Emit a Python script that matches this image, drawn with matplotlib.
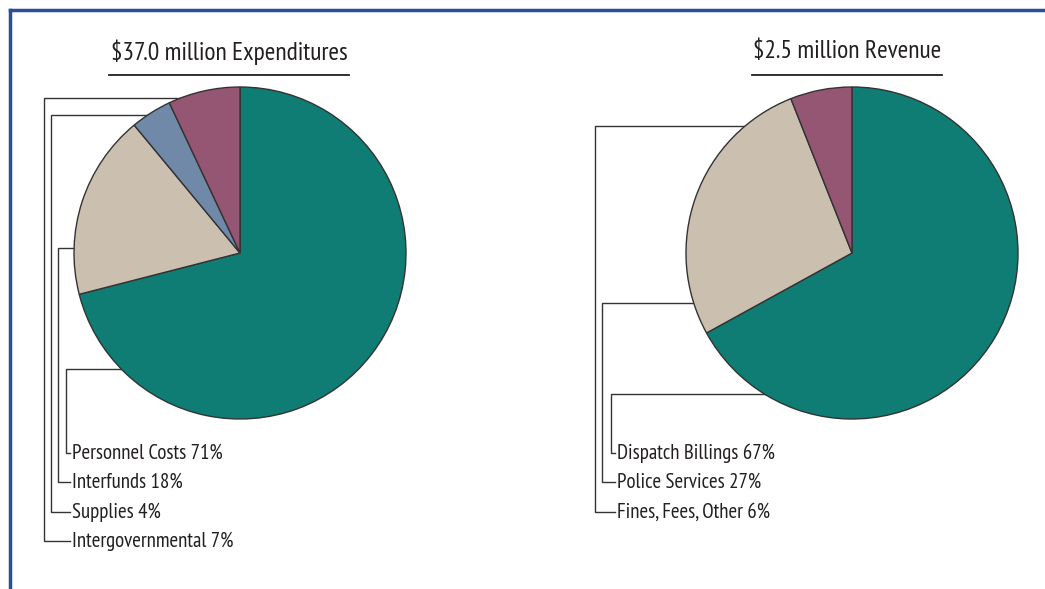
import matplotlib
matplotlib.use("Agg")
import matplotlib.pyplot as plt
from matplotlib import font_manager

# ---------- data ----------
exp_labels = ["Personnel Costs", "Interfunds", "Supplies", "Intergovernmental"]
exp_values = [71, 18, 4, 7]
exp_title = "$37.0 million Expenditures"

rev_labels = ["Dispatch Billings", "Police Services", "Fines, Fees, Other"]
rev_values = [67, 27, 6]
rev_title = "$2.5 million Revenue"

exp_colors = ["#0f7d74", "#cbc0af", "#7089a8", "#955673"]
rev_colors = ["#0f7d74", "#cbc0af", "#955673"]

# ---------- style ----------
W, H = 1045, 589
INK = "#231f20"
LINE = "#333333"
BORDER = "#2d4b9b"

# pick a condensed face close to the original
names = {f.name for f in font_manager.fontManager.ttflist}
prefs = ["PT Sans Narrow", "Asap Condensed", "Fira Sans Extra Condensed",
         "Encode Sans Condensed", "Fira Sans Condensed", "Roboto Condensed",
         "Archivo Narrow", "IBM Plex Sans Condensed", "Liberation Sans Narrow"]
face = next((p for p in prefs if p in names), "DejaVu Sans")
plt.rcParams["font.family"] = [face, "DejaVu Sans"]


def py(y):
    # picture rows -> data y (y up)
    return H - y


fig = plt.figure(figsize=(W / 100, H / 100), dpi=100)
ax = fig.add_axes([0, 0, 1, 1])
renderer = fig.canvas.get_renderer()


def fit_size(s, width_px, base=14):
    # font size so that text s is about width_px wide
    t = fig.text(0, 0, s, fontsize=base)
    w = t.get_window_extent(renderer).width
    t.remove()
    return base * width_px / w


label_fs = fit_size("Personnel Costs 71%", 152)
title_fs = fit_size(exp_title, 238)


def draw_panel(values, labels, colors, title, cx, cy, r, ul, lead_x, lead_y, text_x, rows):
    ax.pie(values, colors=colors, startangle=90, counterclock=False,
           center=(cx, py(cy)), radius=r, frame=True,
           wedgeprops=dict(edgecolor=LINE, linewidth=1.0, zorder=3))
    ax.text(sum(ul) / 2, py(52), title, ha="center", va="center", fontsize=title_fs, color=INK)
    ax.plot(ul, [py(75), py(75)], color=INK, lw=1.3, zorder=2)
    for lab, v, lx, ly, row in zip(labels, values, lead_x, lead_y, rows):
        ax.plot([cx, lx, lx, text_x - 2], [py(ly), py(ly), py(row), py(row)],
                color=LINE, lw=1.0, zorder=1, solid_joinstyle="miter")
        ax.text(text_x, py(row), f"{lab} {v}%", ha="left", va="center",
                fontsize=label_fs, color=INK)


draw_panel(exp_values, exp_labels, exp_colors, exp_title,
           240, 253, 166, [109, 349],
           [66, 58, 51, 44], [369, 248, 115, 98], 72, [453, 482, 512, 541])
draw_panel(rev_values, rev_labels, rev_colors, rev_title,
           852, 253, 166, [752, 942],
           [611, 602, 595], [394, 303, 126], 617, [453, 482, 512])

# frame lines top and left
ax.plot([10, W], [py(10), py(10)], color=BORDER, lw=2.5, zorder=5)
ax.plot([10, 10], [py(10), 0], color=BORDER, lw=2.5, zorder=5)

ax.set_xlim(0, W)
ax.set_ylim(0, H)
ax.set_aspect("auto")
ax.axis("off")

fig.savefig("out.png", dpi=100, facecolor="white")
